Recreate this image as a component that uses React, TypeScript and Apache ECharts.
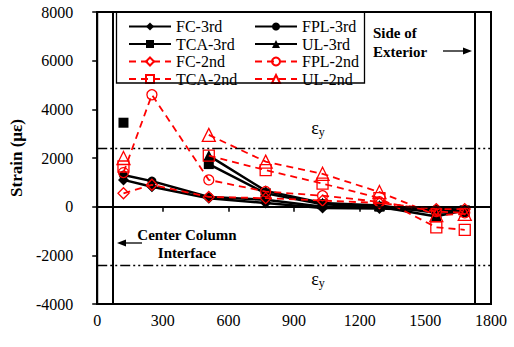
import React, { useEffect, useRef } from 'react';
import * as echarts from 'echarts';

const distances = [120, 250, 510, 770, 1030, 1290, 1550, 1680];
const fc3rd = [1100, 820, 350, 150, -50, -80, -150, -150];
const fpl3rd = [1300, 1050, 400, 280, 0, -30, -100, -120];
const tca3rd = [3450, null, 1750, 550, 100, 0, -400, -150];
const ul3rd = [null, null, 2100, 650, 150, 50, -250, -200];
const fc2nd = [550, 900, 400, 350, 250, 150, -100, -100];
const fpl2nd = [1400, 4600, 1100, 620, 450, 200, -200, -250];
const tca2nd = [1650, null, 2100, 1500, 950, 350, -850, -950];
const ul2nd = [2000, null, 2950, 1850, 1350, 600, -350, -300];

const legendRows = [
  ['FC-3rd', 'FPL-3rd'],
  ['TCA-3rd', 'UL-3rd'],
  ['FC-2nd', 'FPL-2nd'],
  ['TCA-2nd', 'UL-2nd'],
];

const yieldStrain = 2400;
const centerInterface = 73;
const exteriorSide = 1728;

const xTicks = { min: 0, max: 1800, interval: 300 };
const yTicks = { min: -4000, max: 8000, interval: 2000 };

const FONT = '"Liberation Serif", "Times New Roman", serif';

function toData(vals: (number | null)[]) {
  return distances.map((d, i) => [d, vals[i] === null ? '-' : vals[i]]);
}

function blackSeries(name: string, vals: (number | null)[], symbol: string, size: number) {
  return {
    name,
    type: 'line',
    data: toData(vals),
    symbol,
    symbolSize: size,
    showSymbol: true,
    connectNulls: false,
    itemStyle: { color: '#000' },
    lineStyle: { color: '#000', width: 2.5 },
    z: 3,
  };
}

function redSeries(name: string, vals: (number | null)[], symbol: string, size: number) {
  return {
    name,
    type: 'line',
    data: toData(vals),
    symbol,
    symbolSize: size,
    showSymbol: true,
    connectNulls: false,
    itemStyle: { color: 'rgba(255,255,255,0)', borderColor: '#ff0000', borderWidth: 1.3 },
    lineStyle: { color: '#ff0000', width: 1.8, type: [7, 5] },
    z: 4,
  };
}

export default function App() {
  const ref = useRef<HTMLDivElement>(null);
  useEffect(() => {
    if (!ref.current) return;
    const chart = echarts.init(ref.current, null, { renderer: 'svg' });
    const refLines = {
      name: 'refs',
      type: 'line',
      data: [],
      silent: true,
      markLine: {
        silent: true,
        symbol: 'none',
        label: { show: false },
        animation: false,
        data: [
          { yAxis: 0, lineStyle: { color: '#000', width: 1.5, type: 'solid' } },
          { yAxis: yieldStrain, lineStyle: { color: '#000', width: 1.3, type: [10, 3, 2, 3, 2, 3] } },
          { yAxis: -yieldStrain, lineStyle: { color: '#000', width: 1.3, type: [10, 3, 2, 3, 2, 3] } },
          { xAxis: centerInterface, lineStyle: { color: '#000', width: 2, type: 'solid' } },
          { xAxis: exteriorSide, lineStyle: { color: '#000', width: 2, type: 'solid' } },
        ],
      },
    };
    const colLeft = [123, 249];
    const rowTop = [13.5, 31, 48.5, 66];
    const legends: any[] = [];
    legendRows.forEach((row, r) => {
      row.forEach((name, c) => {
        legends.push({
          orient: 'horizontal',
          left: colLeft[c],
          top: rowTop[r],
          itemWidth: 42,
          itemHeight: 10,
          data: [name],
          textStyle: { fontFamily: FONT, fontSize: 16, color: '#000' },
        });
      });
    });
    const labelFmt = (v: number) => String(v);
    chart.setOption({
      animation: false,
      backgroundColor: '#fff',
      textStyle: { fontFamily: FONT },
      grid: {
        left: 97,
        top: 12,
        width: 394,
        height: 292,
        show: true,
        borderColor: '#000',
        borderWidth: 2,
      },
      legend: legends,
      xAxis: {
        type: 'value',
        ...xTicks,
        axisLine: { lineStyle: { color: '#000', width: 2 } },
        axisTick: { show: true, inside: false, length: 5, lineStyle: { color: '#000', width: 1.5 } },
        axisLabel: { fontFamily: FONT, fontSize: 16, color: '#000', margin: 8, formatter: labelFmt },
        splitLine: { show: false },
      },
      yAxis: {
        type: 'value',
        ...yTicks,
        name: 'Strain (με)',
        nameLocation: 'middle',
        nameGap: 68,
        nameRotate: 90,
        nameTextStyle: { fontFamily: FONT, fontSize: 17, fontWeight: 'bold', color: '#000' },
        axisLine: { lineStyle: { color: '#000', width: 2 } },
        axisTick: { show: true, inside: false, length: 5, lineStyle: { color: '#000', width: 1.5 } },
        axisLabel: { fontFamily: FONT, fontSize: 16, color: '#000', margin: 24, formatter: labelFmt },
        splitLine: { show: false },
      },
      series: [
        refLines,
        blackSeries('FC-3rd', fc3rd, 'diamond', 11),
        blackSeries('FPL-3rd', fpl3rd, 'circle', 9),
        blackSeries('TCA-3rd', tca3rd, 'rect', 10),
        blackSeries('UL-3rd', ul3rd, 'triangle', 11),
        redSeries('FC-2nd', fc2nd, 'diamond', 11),
        redSeries('FPL-2nd', fpl2nd, 'circle', 10),
        redSeries('TCA-2nd', tca2nd, 'rect', 11),
        redSeries('UL-2nd', ul2nd, 'triangle', 13),
      ],
      graphic: [
        {
          type: 'rect',
          shape: { x: 116.5, y: 12, width: 248, height: 71 },
          style: { fill: 'none', stroke: '#000', lineWidth: 1.3 },
          z: 10,
        },
        {
          type: 'text',
          x: 373,
          y: 42.5,
          style: { text: 'Side of\nExterior', fontFamily: FONT, fontSize: 15, fontWeight: 'bold', fill: '#000', lineHeight: 19, verticalAlign: 'middle' },
          z: 10,
        },
        { type: 'line', shape: { x1: 443, y1: 51, x2: 465, y2: 51 }, style: { stroke: '#000', lineWidth: 1.3 }, z: 10 },
        { type: 'polygon', shape: { points: [[472, 51], [463, 47.5], [463, 54.5]] }, style: { fill: '#000' }, z: 10 },
        {
          type: 'text',
          x: 187,
          y: 244,
          style: { text: 'Center Column\nInterface', fontFamily: FONT, fontSize: 15, fontWeight: 'bold', fill: '#000', lineHeight: 18, align: 'center', verticalAlign: 'middle' },
          z: 10,
        },
        { type: 'line', shape: { x1: 142, y1: 243, x2: 124, y2: 243 }, style: { stroke: '#000', lineWidth: 1.3 }, z: 10 },
        { type: 'polygon', shape: { points: [[117, 243], [126, 239.5], [126, 246.5]] }, style: { fill: '#000' }, z: 10 },
        {
          type: 'text',
          x: 318,
          y: 128,
          style: {
            text: '{a|ε}{b|y}',
            align: 'center',
            verticalAlign: 'middle',
            rich: {
              a: { fontFamily: FONT, fontSize: 18, fill: '#000' },
              b: { fontFamily: FONT, fontSize: 12, fill: '#000', padding: [8, 0, 0, 0] },
            },
          },
          z: 10,
        },
        {
          type: 'text',
          x: 318,
          y: 279,
          style: {
            text: '{a|ε}{b|y}',
            align: 'center',
            verticalAlign: 'middle',
            rich: {
              a: { fontFamily: FONT, fontSize: 18, fill: '#000' },
              b: { fontFamily: FONT, fontSize: 12, fill: '#000', padding: [8, 0, 0, 0] },
            },
          },
          z: 10,
        },
      ],
    });
    return () => chart.dispose();
  }, []);
  return <div ref={ref} style={{ width: 514, height: 347, position: 'absolute', left: 0, top: 0 }} />;
}
